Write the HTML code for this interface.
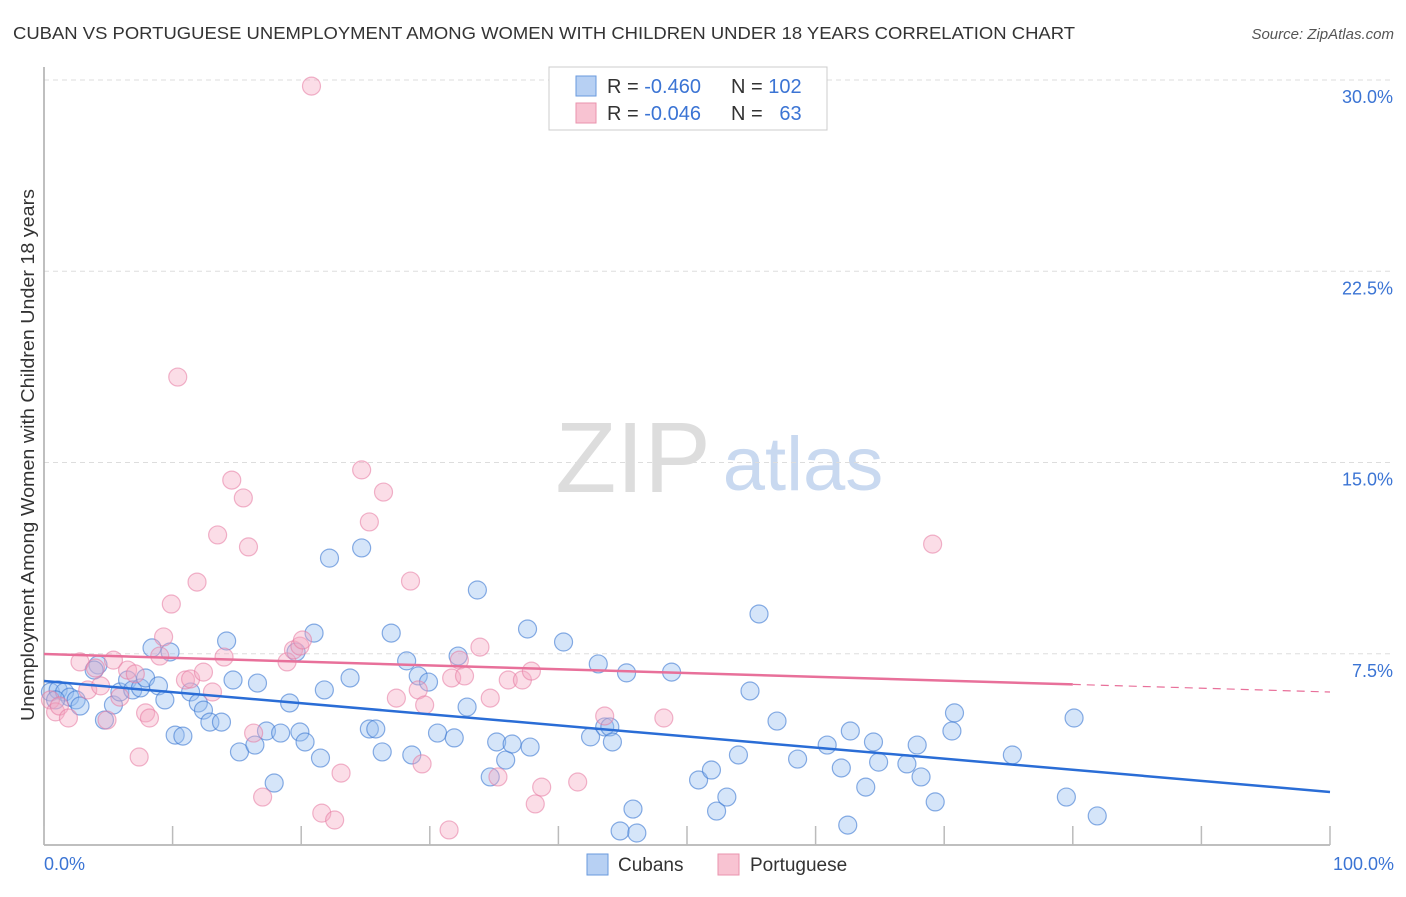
<!DOCTYPE html>
<html><head><meta charset="utf-8">
<style>
body{margin:0;background:#fff;font-family:"Liberation Sans",sans-serif;}
svg text{font-family:"Liberation Sans",sans-serif;}
</style></head>
<body>
<svg id="chart" width="1406" height="892" xmlns="http://www.w3.org/2000/svg">
<text x="13" y="39" font-size="17.5" fill="#333" textLength="1062" lengthAdjust="spacingAndGlyphs">CUBAN VS PORTUGUESE UNEMPLOYMENT AMONG WOMEN WITH CHILDREN UNDER 18 YEARS CORRELATION CHART</text>
<text x="1394" y="39" font-size="15" fill="#555" text-anchor="end" font-style="italic">Source: ZipAtlas.com</text>
<g>
<text x="633" y="492" font-size="100" fill="#ddd" text-anchor="middle" font-family="Liberation Serif, serif">ZIP</text>
<text x="803" y="490" font-size="76" fill="#c9d9f0" text-anchor="middle">atlas</text>
</g>
<g id="grid"></g>
<g id="axes"></g>
<g id="marks"></g>
<g id="lines"></g>
<text transform="translate(34,455) rotate(-90)" font-size="18" fill="#333" text-anchor="middle" textLength="532" lengthAdjust="spacingAndGlyphs">Unemployment Among Women with Children Under 18 years</text>
<text x="44" y="870" font-size="18" fill="#3b74d4">0.0%</text>
<text x="1394" y="870" font-size="18" fill="#3b74d4" text-anchor="end">100.0%</text>
<g>
<rect x="549" y="67" width="278" height="63" fill="#fff" stroke="#ccc"/>
<rect x="576" y="76" width="20" height="20" fill="#b7d0f3" stroke="#6a9ade"/>
<rect x="576" y="103" width="20" height="20" fill="#f8c3d2" stroke="#ea93ad"/>
<text x="607" y="93" font-size="20" fill="#333">R = <tspan fill="#3b74d4">-0.460</tspan></text>
<text x="731" y="93" font-size="20" fill="#333">N = <tspan fill="#3b74d4">102</tspan></text>
<text x="607" y="120" font-size="20" fill="#333">R = <tspan fill="#3b74d4">-0.046</tspan></text>
<text x="731" y="120" font-size="20" fill="#333">N = <tspan fill="#3b74d4">&#160;&#160;63</tspan></text>
</g>
<g>
<rect x="587" y="854" width="21" height="21" fill="#b7d0f3" stroke="#6a9ade"/>
<text x="618" y="871" font-size="19" fill="#333">Cubans</text>
<rect x="718" y="854" width="21" height="21" fill="#f8c3d2" stroke="#ea93ad"/>
<text x="750" y="871" font-size="19" fill="#333">Portuguese</text>
</g>
</svg>
<script>
const yTicks=[7.5,15,22.5,30];
const yTickLabels=["7.5%","15.0%","22.5%","30.0%"];
const xTicks=[0,10,20,30,40,50,60,70,80,90,100];
const cubanX=[0.5,1.1,1.6,2.0,2.5,2.8,0.9,4.2,3.9,4.7,5.4,5.9,6.5,6.9,7.5,7.9,8.4,8.9,9.4,9.8,10.2,10.8,11.4,12.0,12.4,12.9,13.8,14.2,14.7,15.2,16.4,16.6,17.3,17.9,18.4,19.1,19.6,19.9,20.3,21.0,21.5,21.8,22.2,23.8,24.7,25.3,25.8,26.3,27.0,28.2,28.6,29.1,29.9,30.6,31.9,32.2,32.9,33.7,34.7,35.2,35.9,36.4,37.6,37.8,40.4,42.5,43.1,43.6,44.0,44.2,44.8,45.8,46.1,45.3,48.8,50.9,51.9,52.3,53.1,54.0,54.9,55.6,57.0,58.6,60.9,62.0,62.5,62.7,63.9,64.5,64.9,67.1,67.9,68.2,69.3,70.6,70.8,75.3,79.5,80.1,81.9];
const cubanY=[6.0,6.08,6.0,5.8,5.69,5.45,5.69,7.06,6.86,4.9,5.49,6.0,6.47,6.08,6.16,6.55,7.73,6.24,5.69,7.57,4.31,4.27,6.0,5.57,5.29,4.82,4.82,8.0,6.47,3.65,3.92,6.35,4.47,2.43,4.39,5.57,7.57,4.43,4.04,8.31,3.41,6.08,11.25,6.55,11.65,4.55,4.55,3.65,8.31,7.22,3.53,6.63,6.39,4.39,4.2,7.41,5.41,10.0,2.67,4.04,3.33,3.96,8.47,3.84,7.96,4.24,7.1,4.63,4.63,4.04,0.55,1.41,0.47,6.75,6.78,2.55,2.94,1.33,1.88,3.53,6.04,9.06,4.86,3.37,3.92,3.02,0.78,4.47,2.27,4.04,3.25,3.18,3.92,2.67,1.69,4.47,5.18,3.53,1.88,4.98,1.14];
const portX=[0.5,0.9,1.2,1.9,2.8,3.4,4.0,4.4,4.9,5.4,5.9,6.5,7.1,7.4,7.9,8.2,9.0,9.3,9.9,10.4,11.0,11.4,11.9,12.4,13.1,13.5,14.0,14.6,15.5,15.9,16.3,17.0,18.9,19.4,19.9,20.1,20.8,21.6,22.6,23.1,24.7,25.3,26.4,27.4,28.5,29.1,29.4,29.6,31.5,31.7,32.3,32.7,33.9,34.7,35.3,36.1,37.2,37.9,38.2,38.7,41.5,43.6,48.2,69.1];
const portY=[5.69,5.22,5.45,4.98,7.18,6.08,6.94,6.24,4.9,7.25,5.8,6.86,6.71,3.45,5.18,4.98,7.41,8.16,9.45,18.35,6.47,6.51,10.31,6.78,6.0,12.16,7.37,14.31,13.61,11.69,4.39,1.88,7.18,7.65,7.8,8.04,29.76,1.25,0.98,2.82,14.71,12.67,13.84,5.76,10.35,6.08,3.18,5.49,0.59,6.55,7.25,6.63,7.76,5.76,2.67,6.47,6.47,6.82,1.61,2.27,2.47,5.06,4.98,11.8];
const cubanTrend=[6.43,2.08];
const portTrend=[7.49,6.0];
const portSolidEnd=80;

const NS="http://www.w3.org/2000/svg";
const X0=44,X1=1330,Y0=845,YMAX=30,YTOP=80;
function xs(v){return X0+(X1-X0)*v/100;}
function ys(v){return Y0-(Y0-YTOP)*v/YMAX;}
function mk(tag,attrs,parent){const e=document.createElementNS(NS,tag);for(const k in attrs)e.setAttribute(k,attrs[k]);parent.appendChild(e);return e;}
const grid=document.getElementById('grid'),axes=document.getElementById('axes'),marks=document.getElementById('marks'),lines=document.getElementById('lines');
yTicks.forEach((t,i)=>{
  const g=mk('line',{x1:X0,x2:1394,y1:ys(t),y2:ys(t),stroke:'#ddd','stroke-dasharray':'5,4'},grid);
  
  
  const tx=mk('text',{x:1393,y:ys(t)+23,'font-size':18,fill:'#3b74d4','text-anchor':'end'},axes);
  tx.textContent=yTickLabels[i];
  
  
});
const ya=mk('line',{x1:X0,x2:X0,y1:67,y2:Y0,stroke:'#aaa','stroke-width':1.5},axes);


const xa=mk('line',{x1:X0,x2:X1,y1:Y0,y2:Y0,stroke:'#aaa','stroke-width':1.5},axes);


xTicks.forEach(t=>{
  const l=mk('line',{x1:xs(t),x2:xs(t),y1:Y0,y2:Y0-19,stroke:'#bbb','stroke-width':1.5},axes);
  
  
});
cubanX.forEach((v,i)=>{
  const c=mk('circle',{cx:xs(v),cy:ys(cubanY[i]),r:9,fill:'rgba(150,190,240,0.4)',stroke:'rgba(60,120,210,0.6)','stroke-width':1.2},marks);
  
  
});
portX.forEach((v,i)=>{
  const c=mk('circle',{cx:xs(v),cy:ys(portY[i]),r:9,fill:'rgba(245,170,195,0.4)',stroke:'rgba(230,120,160,0.55)','stroke-width':1.2},marks);
  
  
});
const bl=mk('line',{x1:xs(0),y1:ys(cubanTrend[0]),x2:xs(100),y2:ys(cubanTrend[1]),stroke:'#2a6dd6','stroke-width':2.5},lines);


const pm=portTrend[0]+(portTrend[1]-portTrend[0])*portSolidEnd/100;
const pl=mk('line',{x1:xs(0),y1:ys(portTrend[0]),x2:xs(portSolidEnd),y2:ys(pm),stroke:'#e8709a','stroke-width':2.5},lines);


const pd=mk('line',{x1:xs(portSolidEnd),y1:ys(pm),x2:xs(100),y2:ys(portTrend[1]),stroke:'#e8709a','stroke-width':1.2,'stroke-dasharray':'8,6'},lines);


</script>
</body></html>
